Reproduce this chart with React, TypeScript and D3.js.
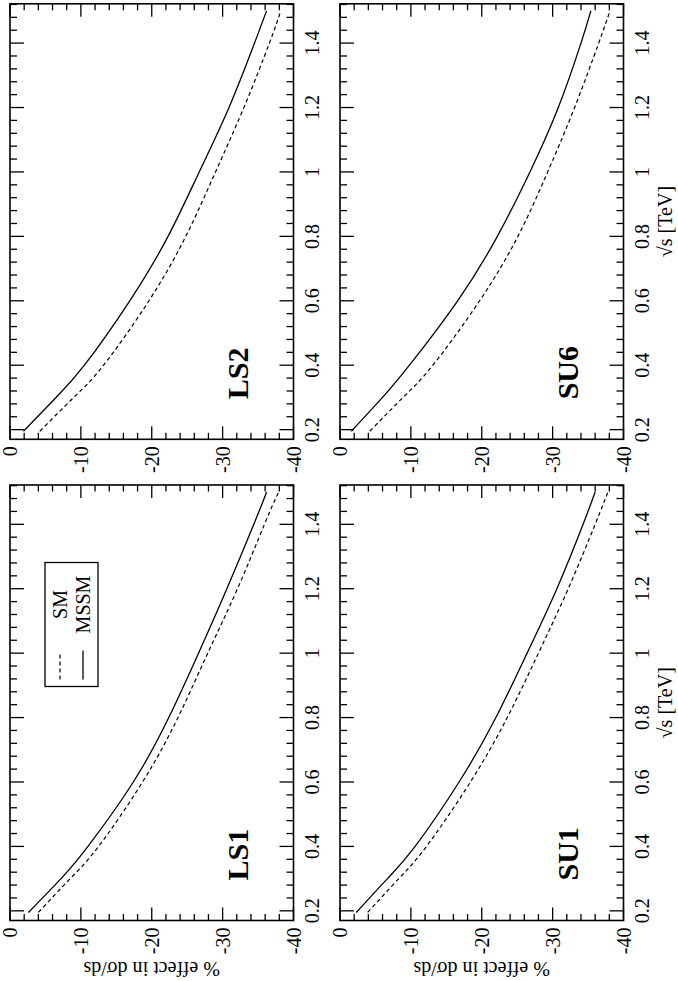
import React from "react";
import * as d3 from "d3";

// sqrt(s) sample points [TeV]
const sqrtS = [0.195, 0.3, 0.4, 0.6, 0.8, 1.0, 1.2, 1.4, 1.5];

// % effect in dσ/ds
const LS1_MSSM = [-2.6, -7.2, -11.0, -17.4, -22.4, -26.6, -30.6, -34.4, -36.2];
const LS1_SM = [-4.0, -8.5, -12.5, -18.7, -23.7, -27.9, -32.1, -35.9, -37.9];
const LS2_MSSM = [-1.9, -6.5, -10.5, -16.9, -22.3, -26.7, -30.9, -34.5, -36.2];
const LS2_SM = [-4.2, -9.0, -13.2, -19.6, -24.8, -29.0, -33.0, -36.6, -38.2];
const SU1_MSSM = [-2.3, -6.7, -10.6, -16.8, -22.0, -26.4, -30.6, -34.3, -36.0];
const SU1_SM = [-3.9, -8.3, -12.2, -18.4, -23.6, -28.0, -32.2, -36.0, -37.8];
const SU6_MSSM = [-1.6, -6.0, -9.8, -16.6, -22.2, -26.8, -30.8, -34.0, -35.4];
const SU6_SM = [-4.2, -8.9, -13.1, -19.7, -25.1, -29.3, -33.1, -36.5, -38.1];

const xMajorTicks = [0.2, 0.4, 0.6, 0.8, 1.0, 1.2, 1.4];
const xTickLabels = ["0.2", "0.4", "0.6", "0.8", "1", "1.2", "1.4"];
const yMajorTicks = [0, -10, -20, -30, -40];
const yTickLabels = ["0", "-10", "-20", "-30", "-40"];
const legendLabels = ["SM", "MSSM"];

const xDomain: [number, number] = [0.17, 1.522];
const yDomain: [number, number] = [0, -40];

const W = 981; // unrotated figure width
const H = 678; // unrotated figure height
const PW = 435.5;
const PH = 283.5;
const FONT = "'Liberation Serif', 'Times New Roman', serif";

const panels = [
  { name: "LS1", x0: 60.5, y0: 10, mssm: LS1_MSSM, sm: LS1_SM, legend: true, yTitle: true, xTitle: false },
  { name: "LS2", x0: 541.7, y0: 10, mssm: LS2_MSSM, sm: LS2_SM, legend: false, yTitle: false, xTitle: false },
  { name: "SU1", x0: 60.5, y0: 340, mssm: SU1_MSSM, sm: SU1_SM, legend: false, yTitle: true, xTitle: true },
  { name: "SU6", x0: 541.7, y0: 340, mssm: SU6_MSSM, sm: SU6_SM, legend: false, yTitle: false, xTitle: true },
];

function Panel({ p }: { p: (typeof panels)[number] }) {
  const x = d3.scaleLinear().domain(xDomain).range([p.x0, p.x0 + PW]);
  const y = d3.scaleLinear().domain(yDomain).range([p.y0, p.y0 + PH]);
  const xMinor = d3.range(0.2, 1.53, 0.04).filter((v) => v <= xDomain[1] + 1e-6 && v >= xDomain[0]);
  const yMinor = d3.range(0, -40.01, -2);
  const line = d3
    .line<[number, number]>()
    .x((d) => x(d[0]))
    .y((d) => y(d[1]))
    .curve(d3.curveNatural);
  const mssmPts = sqrtS.map((s, i) => [s, p.mssm[i]] as [number, number]);
  const smPts = sqrtS.map((s, i) => [s, p.sm[i]] as [number, number]);
  const top = p.y0;
  const bot = p.y0 + PH;
  const left = p.x0;
  const right = p.x0 + PW;
  const isMajorX = (v: number) => xMajorTicks.some((t) => Math.abs(t - v) < 1e-6);
  const isMajorY = (v: number) => yMajorTicks.some((t) => Math.abs(t - v) < 1e-6);
  const lx = left + 40;
  return (
    <g>
      {/* x ticks top & bottom */}
      {xMinor.map((v, i) => {
        const len = isMajorX(v) ? 14 : 7;
        const xx = x(v);
        return (
          <g key={"xt" + i}>
            <line x1={xx} x2={xx} y1={bot} y2={bot - len} stroke="#000" strokeWidth={1.3} />
            <line x1={xx} x2={xx} y1={top} y2={top + len} stroke="#000" strokeWidth={1.3} />
          </g>
        );
      })}
      {/* y ticks left & right */}
      {yMinor.map((v, i) => {
        const len = isMajorY(v) ? 13 : 6.5;
        const yy = y(v);
        return (
          <g key={"yt" + i}>
            <line x1={left} x2={left + len} y1={yy} y2={yy} stroke="#000" strokeWidth={1.3} />
            <line x1={right} x2={right - len} y1={yy} y2={yy} stroke="#000" strokeWidth={1.3} />
          </g>
        );
      })}
      <rect x={left} y={top} width={PW} height={PH} fill="none" stroke="#000" strokeWidth={1.6} />
      {/* tick labels */}
      {xMajorTicks.map((v, i) => (
        <text key={"xl" + i} x={x(v)} y={bot + 25} textAnchor="middle" fontSize={20} fontFamily={FONT}>
          {xTickLabels[i]}
        </text>
      ))}
      {yMajorTicks.map((v, i) => (
        <text key={"yl" + i} x={left - 7} y={y(v)} dy="0.35em" textAnchor="end" fontSize={20} fontFamily={FONT}>
          {yTickLabels[i]}
        </text>
      ))}
      {/* curves */}
      <path d={line(smPts) || ""} fill="none" stroke="#000" strokeWidth={1.2} strokeDasharray="4,3" />
      <path d={line(mssmPts) || ""} fill="none" stroke="#000" strokeWidth={1.3} />
      {/* panel label */}
      <text x={lx} y={top + 238} fontSize={30} fontWeight="bold" fontFamily={FONT}>
        {p.name}
      </text>
      {p.legend && (
        <g>
          <rect x={left + 234} y={top + 35} width={124} height={53} fill="none" stroke="#000" strokeWidth={1.3} />
          <line x1={left + 241} x2={left + 268} y1={top + 50} y2={top + 50} stroke="#000" strokeWidth={1.2} strokeDasharray="4,3" />
          <line x1={left + 241} x2={left + 270} y1={top + 73} y2={top + 73} stroke="#000" strokeWidth={1.3} />
          <text x={left + 316} y={top + 57} textAnchor="middle" fontSize={20} fontFamily={FONT}>
            {legendLabels[0]}
          </text>
          <text x={left + 316} y={top + 80} textAnchor="middle" fontSize={20} fontFamily={FONT}>
            {legendLabels[1]}
          </text>
        </g>
      )}
      {p.yTitle && (
        <text
          transform={`translate(19,${(top + bot) / 2}) rotate(-90)`}
          textAnchor="middle"
          fontSize={20}
          fontFamily={FONT}
        >
          % effect in dσ/ds
        </text>
      )}
      {p.xTitle && (
        <text x={(left + right) / 2} y={672} textAnchor="middle" fontSize={20} fontFamily={FONT}>
          √s [TeV]
        </text>
      )}
    </g>
  );
}

export default function App() {
  return (
    <svg
      width={H}
      height={W}
      style={{ position: "absolute", left: 0, top: 0, background: "#fff" }}
      xmlns="http://www.w3.org/2000/svg"
    >
      <rect x={0} y={0} width={H} height={W} fill="#fff" />
      <g transform={`translate(0,${W}) rotate(-90)`}>
        {panels.map((p) => (
          <Panel key={p.name} p={p} />
        ))}
      </g>
    </svg>
  );
}
